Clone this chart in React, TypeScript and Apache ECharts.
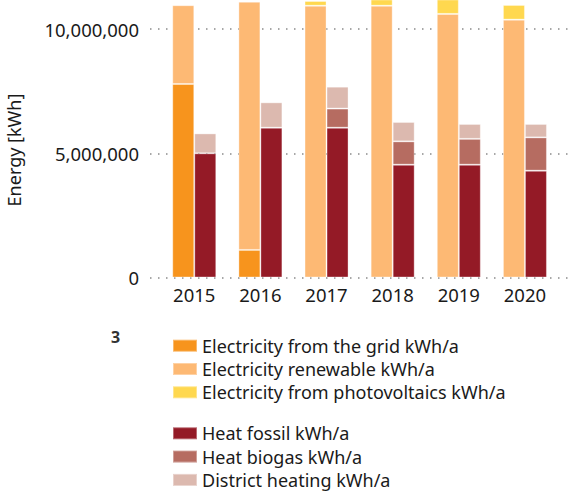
import React, { useEffect, useRef } from "react";
import * as echarts from "echarts";

const years = ["2015", "2016", "2017", "2018", "2019", "2020"];
const elecGrid = [7790000, 1110000, 0, 0, 0, 0];
const elecRenewable = [3170000, 9990000, 10940000, 10940000, 10610000, 10380000];
const elecPV = [0, 0, 190000, 350000, 600000, 590000];
const heatFossil = [5000000, 6030000, 6030000, 4540000, 4540000, 4300000];
const heatBiogas = [0, 0, 770000, 940000, 1040000, 1340000];
const heatDistrict = [800000, 1020000, 880000, 780000, 600000, 540000];

const names = [
  "Electricity from the grid kWh/a",
  "Electricity renewable kWh/a",
  "Electricity from photovoltaics kWh/a",
  "Heat fossil kWh/a",
  "Heat biogas kWh/a",
  "District heating kWh/a",
];
const colors = ["#F7941D", "#FDB974", "#FFD84F", "#941A26", "#B66C61", "#DCB9AF"];

const FONT = "Noto Sans";
const YMAX = 11170000;

export default function App() {
  const ref = useRef<HTMLDivElement>(null);
  useEffect(() => {
    if (!ref.current) return;
    const chart = echarts.init(ref.current, undefined, { renderer: "svg" });
    const fmt = (v: number) => (v % 5000000 === 0 ? v.toLocaleString("en-US") : "");
    const mk = (i: number, data: number[], stack: string) => ({
      name: names[i],
      type: "bar",
      stack,
      xAxisIndex: 1,
      yAxisIndex: 1,
      barWidth: 22,
      barGap: "0%",
      data: data.map((v) => (v === 0 ? null : v)),
      itemStyle: { color: colors[i], borderColor: "rgba(255,255,255,0.35)", borderWidth: 1 },
      emphasis: { disabled: true },
    });
    const legendBase = {
      orient: "vertical",
      left: 172,
      padding: 0,
      height: 80,
      itemWidth: 24,
      itemHeight: 12,
      itemGap: 5.3,
      icon: "rect",
      selectedMode: false,
      textStyle: { fontSize: 18, color: "#1a1a1a", lineHeight: 18, fontFamily: FONT },
    };
    chart.setOption({
      animation: false,
      textStyle: { fontFamily: FONT },
      grid: [
        { left: 150, right: 3, top: 0, bottom: 218.5 },
        { left: 161.2, right: 15, top: 0, bottom: 218.5 },
      ],
      xAxis: [
        { type: "value", gridIndex: 0, show: false, min: 0, max: 1 },
        {
          type: "category",
          gridIndex: 1,
          data: years,
          axisLine: { show: false },
          axisTick: { show: false },
          axisLabel: { fontSize: 18.5, color: "#1a1a1a", margin: 7, fontFamily: FONT },
        },
      ],
      yAxis: [
        {
          type: "value",
          gridIndex: 0,
          min: 0,
          max: YMAX,
          interval: 5000000,
          axisLine: { show: false },
          axisTick: { show: false },
          axisLabel: {
            fontSize: 18.5,
            color: "#1a1a1a",
            margin: 11,
            formatter: fmt,
            showMaxLabel: false,
            fontFamily: FONT,
          },
          splitLine: {
            show: true,
            showMaxLine: false,
            lineStyle: { color: "#8a8a8a", width: 1.5, type: [1.5, 6.5] },
          },
        },
        { type: "value", gridIndex: 1, min: 0, max: YMAX, show: false },
      ],
      legend: [
        { ...legendBase, data: names.slice(0, 3), top: 336.7 },
        { ...legendBase, data: names.slice(3), top: 424.3 },
      ],
      graphic: [
        {
          type: "text",
          x: 13.5,
          y: 150,
          rotation: Math.PI / 2,
          style: {
            text: "Energy [kWh]",
            fontSize: 18,
            fontFamily: FONT,
            fill: "#1a1a1a",
            align: "center",
            verticalAlign: "middle",
          },
        },
        {
          type: "text",
          x: 111,
          y: 337,
          style: {
            text: "3",
            fontSize: 16,
            fontWeight: "bold",
            fontFamily: FONT,
            fill: "#333",
            align: "left",
            verticalAlign: "middle",
          },
        },
      ],
      series: [
        mk(0, elecGrid, "elec"),
        mk(1, elecRenewable, "elec"),
        mk(2, elecPV, "elec"),
        mk(3, heatFossil, "heat"),
        mk(4, heatBiogas, "heat"),
        mk(5, heatDistrict, "heat"),
      ],
    });
    return () => chart.dispose();
  }, []);
  return (
    <div
      ref={ref}
      style={{ position: "absolute", left: 0, top: 0, width: 573, height: 496 }}
    />
  );
}
